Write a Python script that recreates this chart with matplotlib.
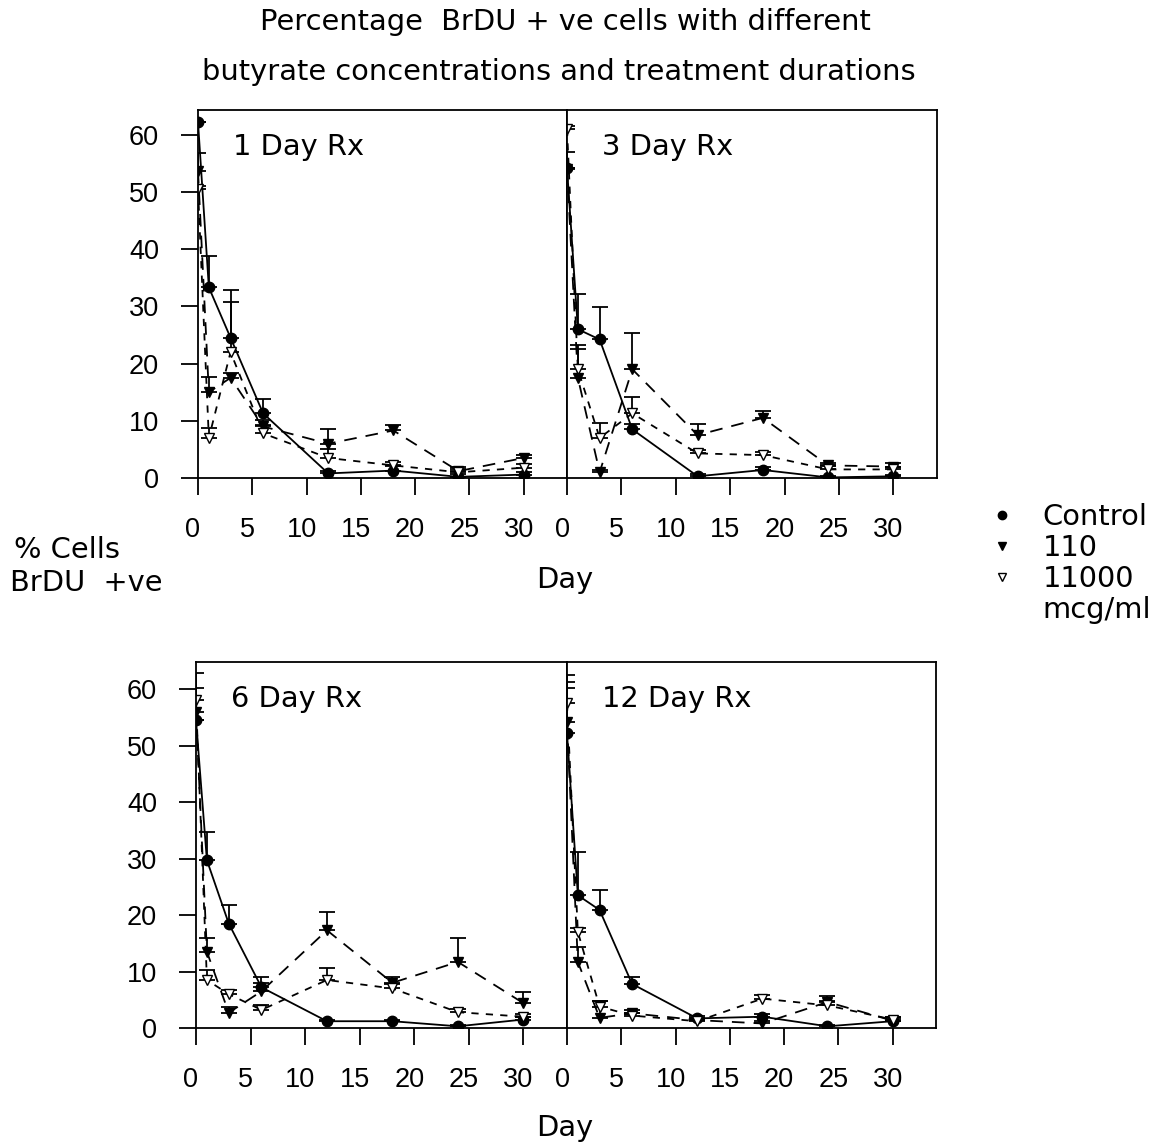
import matplotlib.pyplot as plt
from matplotlib.lines import Line2D
from matplotlib.transforms import ScaledTranslation

plt.rcParams['font.family'] = ['Liberation Sans', 'DejaVu Sans']
TEXT_FONT = ['DejaVu Sans']
TEXT_SIZE = 20.8

# sampling days after treatment
days = [0, 1, 3, 6, 12, 18, 24, 30]
panel_titles = ["1 Day Rx", "3 Day Rx", "6 Day Rx", "12 Day Rx"]
series_names = ["Control", "110", "11000"]

# 1 day treatment
control_1 = [62.2, 33.3, 24.5, 11.3, 0.8, 1.3, 0.2, 0.6]
control_1_err = [0, 5.5, 8.3, 2.5, 0.5, 0.8, 0.5, 0.5]
b110_1 = [53.7, 15.0, 17.5, 9.0, 6.0, 8.3, 1.2, 3.5]
b110_1_err = [3.0, 2.6, 0.8, 1.2, 2.5, 1.0, 0.8, 0.6]
b11000_1 = [50.5, 7.0, 22.0, 7.8, 3.5, 2.2, 1.0, 1.8]
b11000_1_err = [0.5, 1.8, 8.7, 1.5, 1.5, 0.6, 0.5, 0.6]

# 3 day treatment
control_3 = [54.2, 26.0, 24.2, 8.5, 0.3, 1.4, 0.1, 0.3]
control_3_err = [0, 6.2, 5.6, 1.0, 0.4, 0.5, 0.3, 0.3]
b110_3 = [54.0, 17.5, 1.0, 19.0, 7.5, 10.5, 2.2, 2.0]
b110_3_err = [3.0, 5.0, 0.4, 6.3, 2.0, 1.2, 0.4, 0.6]
b11000_3 = [61.0, 19.0, 7.0, 11.3, 4.3, 4.0, 1.5, 1.5]
b11000_3_err = [0.5, 4.2, 2.6, 2.8, 0.6, 0.5, 0.6, 0.5]

# 6 day treatment
control_6 = [54.5, 29.7, 18.5, 7.2, 1.2, 1.2, 0.3, 1.5]
control_6_err = [0, 5.0, 3.3, 1.8, 0.3, 0.3, 0.3, 0.5]
b110_6 = [56.0, 13.5, 2.7, 6.5, 17.3, 8.0, 11.7, 4.4]
b110_6_err = [4.2, 2.5, 1.0, 1.5, 3.2, 1.0, 4.3, 2.0]
b11000_6 = [58.0, 8.5, 6.0, 3.2, 8.5, 7.0, 2.8, 2.0]
b11000_6_err = [4.8, 1.8, 0.8, 0.8, 2.2, 0.8, 0.5, 0.5]

# 12 day treatment
control_12 = [52.2, 23.5, 20.9, 7.8, 1.7, 2.0, 0.3, 1.2]
control_12_err = [8.0, 7.7, 3.5, 1.2, 0.5, 0.5, 0.3, 0.5]
b110_12 = [54.2, 11.7, 1.8, 2.6, 1.4, 0.8, 4.6, 1.3]
b110_12_err = [7.0, 2.6, 3.0, 0.6, 0.4, 0.5, 1.0, 0.6]
b11000_12 = [57.5, 17.0, 3.8, 2.2, 1.2, 5.2, 4.0, 1.5]
b11000_12_err = [5.0, 0.7, 1.0, 0.5, 0.4, 0.7, 0.8, 0.5]

panels = [
    (control_1, control_1_err, b110_1, b110_1_err, b11000_1, b11000_1_err),
    (control_3, control_3_err, b110_3, b110_3_err, b11000_3, b11000_3_err),
    (control_6, control_6_err, b110_6, b110_6_err, b11000_6, b11000_6_err),
    (control_12, control_12_err, b110_12, b110_12_err, b11000_12, b11000_12_err),
]

W, H = 1156, 1144
fig = plt.figure(figsize=(W / 100, H / 100), dpi=100)


def add_axes(x0, x1, ytop, ybot):
    return fig.add_axes([x0 / W, 1 - ybot / H, (x1 - x0) / W, (ybot - ytop) / H])


# pixel boxes of the four panels, plus the y limit of each row
boxes = [
    (198, 567, 110, 478, 64.3),
    (567, 937, 110, 478, 64.3),
    (196, 567, 662, 1028, 64.8),
    (567, 936, 662, 1028, 64.8),
]

styles = [
    dict(fmt='-o', mfc='black', dashes=None),
    dict(fmt='--v', mfc='black', dashes=(7, 5)),
    dict(fmt='--v', mfc='white', dashes=(4, 4)),
]

label_shift = ScaledTranslation(-5 / 100, 0, fig.dpi_scale_trans)

for i, (box, data, title) in enumerate(zip(boxes, panels, panel_titles)):
    x0, x1, ytop, ybot, ymax = box
    ax = add_axes(x0, x1, ytop, ybot)
    for k, st in enumerate(styles):
        vals, err = data[2 * k], data[2 * k + 1]
        eb = ax.errorbar(days, vals, yerr=[[0] * len(err), err], fmt=st['fmt'],
                         color='black', mfc=st['mfc'], mec='black', ms=7.5,
                         lw=1.3, elinewidth=1.3, capsize=5.5, capthick=1.3)
        if st['dashes'] is not None:
            eb.lines[0].set_dashes(st['dashes'])
    ax.set_xlim(0, 34)
    ax.set_ylim(0, ymax)
    ax.set_xticks([0, 5, 10, 15, 20, 25, 30])
    ax.set_yticks([0, 10, 20, 30, 40, 50, 60])
    ax.tick_params(direction='out', length=12, width=1.3, labelsize=19.5, pad=16)
    for lab in ax.get_xticklabels():
        lab.set_transform(lab.get_transform() + label_shift)
    if i % 2 == 1:
        ax.tick_params(axis='y', left=False, labelleft=False)
    for sp in ax.spines.values():
        sp.set_linewidth(1.3)
    ax.text(0.095, 0.9, title, transform=ax.transAxes, fontsize=TEXT_SIZE,
            va='center', family=TEXT_FONT)


def ftext(x, y, s, **kw):
    fig.text(x / W, 1 - y / H, s, family=TEXT_FONT, fontsize=TEXT_SIZE,
             va='center', **kw)


ftext(565, 22, "Percentage  BrDU + ve cells with different", ha='center')
ftext(559, 72, "butyrate concentrations and treatment durations", ha='center')
ftext(565, 580, "Day", ha='center')
ftext(565, 1128, "Day", ha='center')
ftext(14, 550, "% Cells", ha='left')
ftext(10, 583, "BrDU  +ve", ha='left')

handles = [
    Line2D([], [], ls='none', marker='o', color='black', ms=6),
    Line2D([], [], ls='none', marker='v', color='black', ms=6),
    Line2D([], [], ls='none', marker='v', color='black', mfc='white', ms=6),
    Line2D([], [], ls='none', marker=None),
]
fig.legend(handles, series_names + ["mcg/ml"], loc='upper left',
           bbox_to_anchor=(972 / W, 1 - 489 / H), frameon=False,
           prop={'family': TEXT_FONT, 'size': TEXT_SIZE},
           handlelength=1.1, handletextpad=0.85, labelspacing=0.1, borderpad=0)

fig.savefig("out.png", dpi=100)
